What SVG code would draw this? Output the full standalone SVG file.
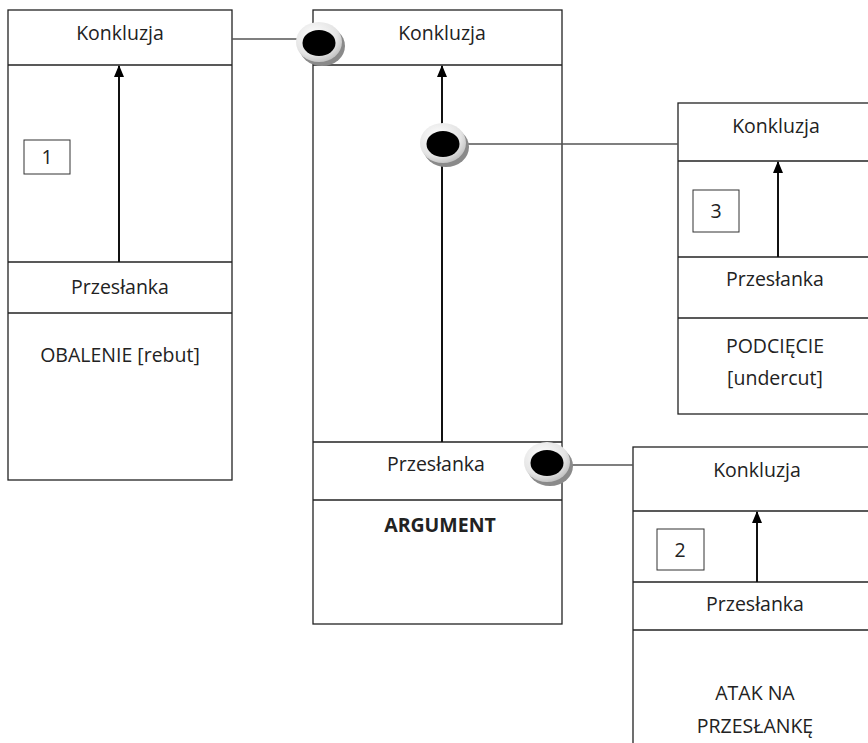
<svg xmlns="http://www.w3.org/2000/svg" width="868" height="743" viewBox="0 0 868 743">
  <defs>
    <marker id="arrowhead" viewBox="0 0 12 10" refX="11" refY="5" markerWidth="12" markerHeight="10" markerUnits="userSpaceOnUse" orient="auto">
      <path d="M0,0 L12,5 L0,10 Z" fill="#000"/>
    </marker>
    <radialGradient id="ringFill" cx="0.4" cy="0.35" r="0.7">
      <stop offset="0" stop-color="#ffffff"/>
      <stop offset="0.7" stop-color="#e4e4e4"/>
      <stop offset="1" stop-color="#bdbdbd"/>
    </radialGradient>
    <g id="dot">
      <ellipse cx="3" cy="4" rx="23" ry="20" fill="#8a8a8a"/>
      <ellipse cx="0" cy="0" rx="23" ry="20" fill="url(#ringFill)"/>
      <ellipse cx="0" cy="1" rx="16.5" ry="13" fill="#000"/>
    </g>
  </defs>
  <style>
    .box { fill: #fff; stroke: #222; stroke-width: 1.3; }
    .div { stroke: #222; stroke-width: 1.3; }
    .num { fill: #fff; stroke: #333; stroke-width: 1; }
    .link { stroke: #555; stroke-width: 1.3; fill: none; }
    .support { stroke: #111; stroke-width: 2; marker-end: url(#arrowhead); }
    text { font-family: "Open Sans", "Liberation Sans", sans-serif; font-size: 19.5px; fill: #222; text-anchor: middle; }
    .bold { font-weight: bold; }
  </style>

  <!-- Rebuttal argument -->
  <g id="rebut">
    <rect class="box" x="8" y="10" width="224" height="470"/>
    <line class="div" x1="8" y1="65" x2="232" y2="65"/>
    <line class="div" x1="8" y1="262" x2="232" y2="262"/>
    <line class="div" x1="8" y1="313" x2="232" y2="313"/>
    <rect class="num" x="24" y="140" width="46" height="34"/>
    <text x="47" y="164">1</text>
    <text x="120" y="40">Konkluzja</text>
    <text x="120" y="294">Przesłanka</text>
    <text x="120" y="362">OBALENIE [rebut]</text>
    <line class="support" x1="119" y1="262" x2="119" y2="66"/>
  </g>

  <!-- Main argument -->
  <g id="argument">
    <rect class="box" x="313" y="10" width="249" height="614"/>
    <line class="div" x1="313" y1="65" x2="562" y2="65"/>
    <line class="div" x1="313" y1="442" x2="562" y2="442"/>
    <line class="div" x1="313" y1="500" x2="562" y2="500"/>
    <text x="442" y="40">Konkluzja</text>
    <text x="436" y="471">Przesłanka</text>
    <text class="bold" x="440" y="532">ARGUMENT</text>
    <line class="support" x1="442" y1="442" x2="442" y2="66"/>
  </g>

  <!-- Undercutting argument -->
  <g id="undercut">
    <rect class="box" x="678" y="103" width="200" height="311"/>
    <line class="div" x1="678" y1="161" x2="868" y2="161"/>
    <line class="div" x1="678" y1="257" x2="868" y2="257"/>
    <line class="div" x1="678" y1="318" x2="868" y2="318"/>
    <rect class="num" x="693" y="190" width="46" height="42"/>
    <text x="716" y="218">3</text>
    <text x="776" y="133">Konkluzja</text>
    <text x="775" y="286">Przesłanka</text>
    <text x="775" y="353">PODCIĘCIE</text>
    <text x="775" y="385">[undercut]</text>
    <line class="support" x1="778" y1="257" x2="778" y2="162"/>
  </g>

  <!-- Premise attack argument -->
  <g id="premise-attack">
    <rect class="box" x="633" y="447" width="245" height="310"/>
    <line class="div" x1="633" y1="511" x2="868" y2="511"/>
    <line class="div" x1="633" y1="582" x2="868" y2="582"/>
    <line class="div" x1="633" y1="630" x2="868" y2="630"/>
    <rect class="num" x="657" y="529" width="47" height="41"/>
    <text x="680" y="557">2</text>
    <text x="757" y="477">Konkluzja</text>
    <text x="755" y="611">Przesłanka</text>
    <text x="755" y="700">ATAK NA</text>
    <text x="755" y="733">PRZESŁANKĘ</text>
    <line class="support" x1="757" y1="582" x2="757" y2="512"/>
  </g>

  <!-- Attack connectors -->
  <g id="connectors">
    <line class="link" x1="232" y1="39" x2="300" y2="39"/>
    <line class="link" x1="460" y1="144" x2="678" y2="144"/>
    <line class="link" x1="560" y1="465" x2="633" y2="465"/>
    <use href="#dot" x="319" y="42"/>
    <use href="#dot" x="443" y="143"/>
    <use href="#dot" x="547" y="462"/>
  </g>
</svg>
